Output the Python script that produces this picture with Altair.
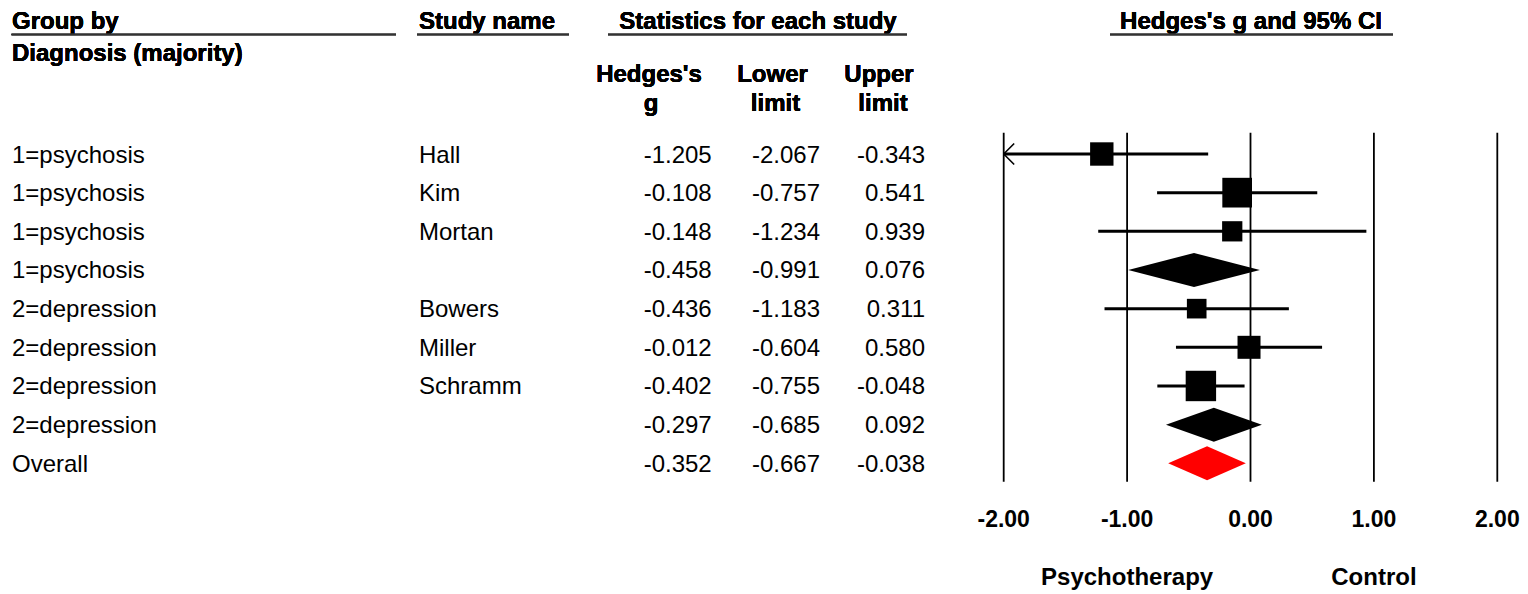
import altair as alt
import pandas as pd

# ---------------- data ----------------
groups = ["1=psychosis", "1=psychosis", "1=psychosis", "1=psychosis",
          "2=depression", "2=depression", "2=depression", "2=depression", "Overall"]
studies = ["Hall", "Kim", "Mortan", "", "Bowers", "Miller", "Schramm", "", ""]
hedges_g = [-1.205, -0.108, -0.148, -0.458, -0.436, -0.012, -0.402, -0.297, -0.352]
lower = [-2.067, -0.757, -1.234, -0.991, -1.183, -0.604, -0.755, -0.685, -0.667]
upper = [-0.343, 0.541, 0.939, 0.076, 0.311, 0.580, -0.048, 0.092, -0.038]
row_type = ["study", "study", "study", "subtotal",
            "study", "study", "study", "subtotal", "overall"]
weights = [15.2, 24.5, 11.4, 0, 10.7, 14.7, 25.7, 0, 0]  # relative weights (marker area)
ticks = [-2, -1, 0, 1, 2]
direction_labels = ["Psychotherapy", "Control"]
direction_at = [-1, 1]

FONT = "Liberation Sans"
W, H = 1512, 586

df = pd.DataFrame({
    "group": groups, "study": studies, "g": hedges_g,
    "lower": lower, "upper": upper, "type": row_type, "weight": weights,
})
df["row"] = range(len(df))
df["g_txt"] = [f"{v:.3f}" for v in df["g"]]
df["lo_txt"] = [f"{v:.3f}" for v in df["lower"]]
df["up_txt"] = [f"{v:.3f}" for v in df["upper"]]
x_min, x_max = min(ticks), max(ticks)
df["lo_clip"] = df["lower"].clip(lower=x_min)
df["up_clip"] = df["upper"].clip(upper=x_max)

study_df = df[df["type"] == "study"]
arrow_df = study_df[study_df["lower"] < x_min]

half = 0.44
dia_rows = []
for r in df[df["type"] != "study"].itertuples():
    dia_rows += [
        dict(row=r.row, type=r.type, x=r.lower, y=r.row, y2=r.row),
        dict(row=r.row, type=r.type, x=r.g, y=r.row - half, y2=r.row + half),
        dict(row=r.row, type=r.type, x=r.upper, y=r.row, y2=r.row),
    ]
dia_df = pd.DataFrame(dia_rows)

tick_df = pd.DataFrame({"t": ticks})
tick_df["lab"] = [f"{t:.2f}" for t in ticks]
tick_df["y0"] = df["row"].min() - 0.55
tick_df["y1"] = df["row"].max() + 0.48
dir_df = pd.DataFrame({"t": direction_at, "lab": direction_labels})

# ---------------- scales ----------------
xs = alt.Scale(domain=[x_min, x_max], range=[995.7, 1489.3], nice=False, zero=False)
ys = alt.Scale(domain=[0, len(df) - 1], range=[146, 455.3], nice=False, zero=False)

def Y(field):
    return alt.Y(field, type="quantitative", scale=ys, axis=None)

def X(field):
    return alt.X(field, type="quantitative", scale=xs, axis=None)

layers = []

# header texts
def head(text, x, y, align="left", size=24):
    return alt.Chart(tick_df).mark_text(
        text=text, align=align, baseline="alphabetic", font=FONT,
        fontSize=size, fontWeight="bold", color="black"
    ).encode(x=alt.value(x), y=alt.value(y))

def uline(x1, x2, y):
    return alt.Chart(tick_df).mark_rule(color="#333", strokeWidth=1.3).encode(
        x=alt.value(x1), x2=alt.value(x2), y=alt.value(y))

layers += [
    head("Group by", 4, 21), uline(3.5, 388, 26.5),
    head("Diagnosis (majority)", 4, 52.5),
    head("Study name", 411, 21), uline(409, 561, 26.5),
    head("Statistics for each study", 750, 21, "center"), uline(600, 899, 26.5),
    head("Hedges's g and 95% CI", 1243, 21, "center"), uline(1102, 1385, 26.5),
    head("Hedges's", 641, 74, "center"), head("g", 643, 103, "center"),
    head("Lower", 764.5, 74, "center"), head("limit", 767.5, 103, "center"),
    head("Upper", 871, 74, "center"), head("limit", 875, 103, "center"),
]

# table text
def col(field, x, align):
    return alt.Chart(df).mark_text(
        align=align, baseline="alphabetic", dy=8.5, font=FONT, fontSize=24, color="black"
    ).encode(x=alt.value(x), y=Y("row"), text=alt.Text(f"{field}:N"))

layers += [
    col("group", 4, "left"),
    col("study", 411, "left"),
    col("g_txt", 703.7, "right"),
    col("lo_txt", 812, "right"),
    col("up_txt", 917, "right"),
]

# forest plot
ref = alt.Chart(tick_df).mark_rule(color="black", strokeWidth=1.8).encode(
    x=X("t"), y=Y("y0"), y2="y1")
ci = alt.Chart(study_df).mark_rule(color="black", strokeWidth=3).encode(
    x=X("lo_clip"), x2="up_clip", y=Y("row"))
sq = alt.Chart(study_df).mark_square(color="black", opacity=1, filled=True).encode(
    x=X("g"), y=Y("row"),
    size=alt.Size("weight:Q", scale=alt.Scale(domain=[0, 26], range=[0, 936]), legend=None))
arrow = alt.Chart(arrow_df).mark_point(
    shape="M 0 0 L 2 -2 M 0 0 L 2 2", size=110, filled=False,
    stroke="black", strokeWidth=1.6, opacity=1
).encode(x=alt.X("lo_clip:Q", scale=xs, axis=None), y=Y("row"))
dia = alt.Chart(dia_df).mark_area(orient="vertical", opacity=1).encode(
    x=X("x"), y=alt.Y("y:Q", scale=ys, axis=None, stack=None), y2="y2",
    detail="row:N",
    color=alt.Color("type:N", scale=alt.Scale(domain=["subtotal", "overall"],
                                              range=["black", "#ff0000"]), legend=None))
tick_lab = alt.Chart(tick_df).mark_text(
    baseline="alphabetic", align="center", font=FONT, fontSize=23, fontWeight="bold", color="black"
).encode(x=X("t"), y=alt.value(518.5), text="lab:N")
dir_lab = alt.Chart(dir_df).mark_text(
    baseline="alphabetic", align="center", font=FONT, fontSize=24, fontWeight="bold", color="black"
).encode(x=X("t"), y=alt.value(577), text="lab:N")

layers += [ref, ci, dia, sq, arrow, tick_lab, dir_lab]

chart = alt.layer(*layers).properties(
    width=W, height=H, padding=0,
    autosize=alt.AutoSizeParams(type="none"),
    background="white",
).configure_view(stroke=None)

chart.save("out.html", embed_options={"renderer": "svg", "actions": False})
